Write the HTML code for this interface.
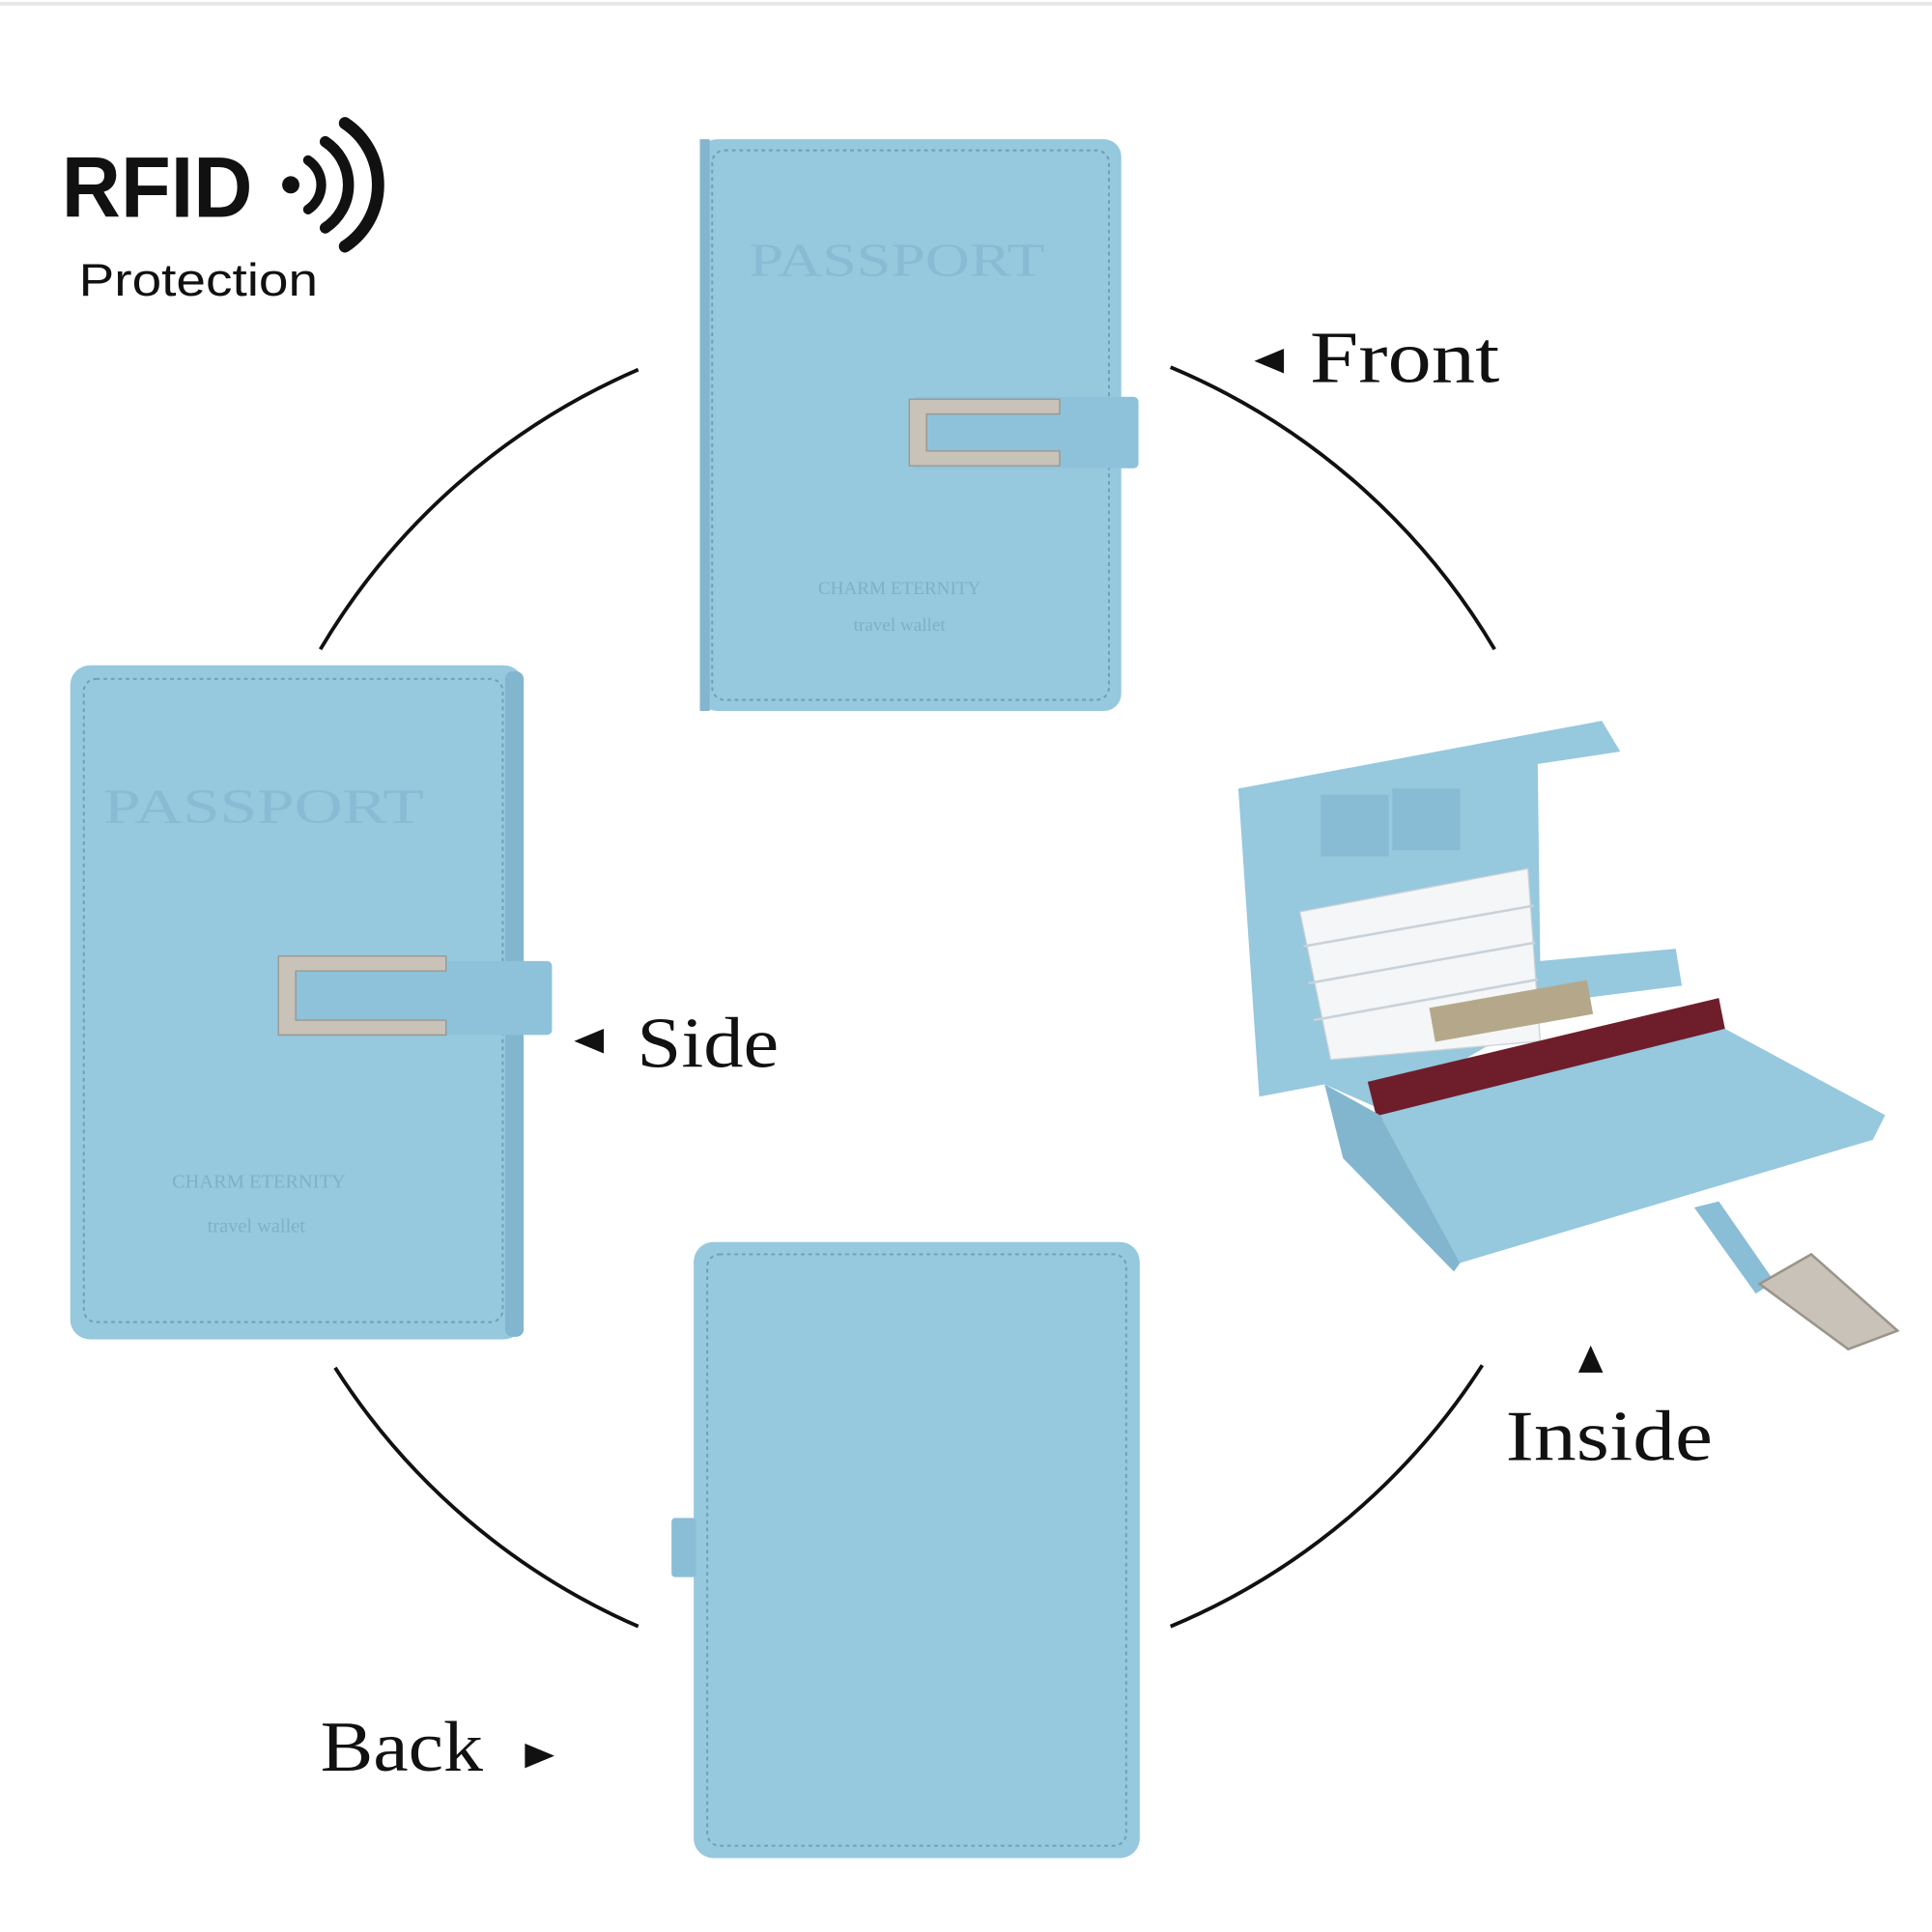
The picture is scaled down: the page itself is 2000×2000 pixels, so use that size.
<!DOCTYPE html>
<html><head><meta charset="utf-8"><style>html,body{margin:0;padding:0;background:#fff}svg{display:block}</style></head><body>
<svg width="2000" height="2000" viewBox="0 0 1568 1568" xmlns="http://www.w3.org/2000/svg">
<rect width="1568" height="1568" fill="#fff"/>
<line x1="0" y1="3" x2="1568" y2="3" stroke="#e6e6e6" stroke-width="3"/>
<g fill="none" stroke="#111" stroke-width="3">
<path d="M518,300 A555,555 0 0 0 260,527"/>
<path d="M950,298 A555,555 0 0 1 1213,527"/>
<path d="M272,1110 A555,555 0 0 0 518,1320"/>
<path d="M950,1320 A555,555 0 0 0 1203,1108"/>
</g>
<text x="50" y="176" font-family="Liberation Sans, sans-serif" font-size="70" font-weight="bold" fill="#111" textLength="155" lengthAdjust="spacingAndGlyphs">RFID</text>
<circle cx="236" cy="150" r="7" fill="#111"/>
<g fill="none" stroke="#111" stroke-linecap="round">
<path d="M250,130 A24,24 0 0 1 250,170" stroke-width="8"/>
<path d="M264,115 A42,42 0 0 1 264,185" stroke-width="9"/>
<path d="M280,100 A60,60 0 0 1 280,200" stroke-width="10"/>
</g>
<text x="64" y="240" font-family="Liberation Sans, sans-serif" font-size="37" fill="#111" textLength="194" lengthAdjust="spacingAndGlyphs">Protection</text>
<!-- Front passport -->
<rect x="568" y="113" width="342" height="464" rx="14" fill="#96c8de"/>
<rect x="568" y="113" width="8" height="464" fill="#82b6cf"/>
<rect x="578" y="122" width="322" height="446" rx="10" fill="none" stroke="#6c9fb8" stroke-width="1.5" stroke-dasharray="3 3"/>
<text x="728" y="224" text-anchor="middle" font-family="Liberation Serif, serif" font-size="38" fill="#88bbd4" textLength="240" lengthAdjust="spacingAndGlyphs">PASSPORT</text>
<text x="730" y="482" text-anchor="middle" font-family="Liberation Serif, serif" font-size="15" fill="#7eb0c8">CHARM ETERNITY</text>
<text x="730" y="512" text-anchor="middle" font-family="Liberation Serif, serif" font-size="15" fill="#7eb0c8">travel wallet</text>
<rect x="740" y="322" width="184" height="58" rx="4" fill="#8ec2da"/>
<path d="M738,324 H860 V336 H752 V366 H860 V378 H738 Z" fill="#c9c2b8" stroke="#9b948a"/>
<!-- Side passport -->
<rect x="57" y="540" width="368" height="547" rx="16" fill="#96c8de"/>
<rect x="410" y="545" width="15" height="540" rx="6" fill="#82b6cf"/>
<rect x="68" y="551" width="340" height="522" rx="10" fill="none" stroke="#6c9fb8" stroke-width="1.5" stroke-dasharray="3 3"/>
<text x="214" y="668" text-anchor="middle" font-family="Liberation Serif, serif" font-size="40" fill="#88bbd4" textLength="260" lengthAdjust="spacingAndGlyphs">PASSPORT</text>
<text x="210" y="964" text-anchor="middle" font-family="Liberation Serif, serif" font-size="16" fill="#7eb0c8">CHARM ETERNITY</text>
<text x="208" y="1000" text-anchor="middle" font-family="Liberation Serif, serif" font-size="16" fill="#7eb0c8">travel wallet</text>
<rect x="228" y="780" width="220" height="60" rx="4" fill="#8ec2da"/>
<path d="M226,776 H362 V788 H240 V828 H362 V840 H226 Z" fill="#c9c2b8" stroke="#9b948a"/>
<!-- Back -->
<rect x="563" y="1008" width="362" height="500" rx="16" fill="#96c8de"/>
<rect x="574" y="1018" width="340" height="480" rx="10" fill="none" stroke="#6c9fb8" stroke-width="1.5" stroke-dasharray="3 3"/>
<rect x="545" y="1232" width="20" height="48" rx="3" fill="#8abed7"/>
<!-- Inside -->
<polygon points="1005,640 1300,585 1315,610 1248,620 1250,780 1360,770 1365,800 1270,812 1120,900 1075,880 1022,890" fill="#96c8de"/>
<rect x="1072" y="645" width="55" height="50" fill="#88bcd5"/>
<rect x="1130" y="640" width="55" height="50" fill="#88bcd5"/>
<polygon points="1055,740 1240,705 1250,845 1080,860" fill="#f4f6f8" stroke="#c9d2d8"/>
<line x1="1058" y1="768" x2="1245" y2="735" stroke="#c9d2d8" stroke-width="2"/>
<line x1="1062" y1="798" x2="1246" y2="765" stroke="#c9d2d8" stroke-width="2"/>
<line x1="1066" y1="828" x2="1248" y2="795" stroke="#c9d2d8" stroke-width="2"/>
<rect x="1160" y="818" width="130" height="28" fill="#b5a88a" transform="rotate(-10 1160 818)"/>
<polygon points="1110,878 1395,810 1400,835 1118,910" fill="#6e1e2a"/>
<polygon points="1120,905 1400,835 1530,905 1520,925 1185,1025" fill="#96c8de"/>
<polygon points="1075,880 1120,905 1185,1025 1180,1032 1090,940" fill="#82b6cf"/>
<polygon points="1375,980 1395,975 1440,1040 1425,1050" fill="#8abed7"/>
<polygon points="1428,1042 1470,1018 1540,1080 1500,1095" fill="#c9c2b8" stroke="#9b948a" stroke-width="2"/>
<g font-family="Liberation Serif, serif" fill="#111">
<text x="1063" y="310" font-size="60" textLength="154" lengthAdjust="spacingAndGlyphs">Front</text>
<polygon points="1018,293 1042,283 1042,303"/>
<text x="517" y="866" font-size="58" textLength="115" lengthAdjust="spacingAndGlyphs">Side</text>
<polygon points="466,845 490,835 490,855"/>
<text x="260" y="1437" font-size="58" textLength="132" lengthAdjust="spacingAndGlyphs">Back</text>
<polygon points="450,1425 426,1415 426,1435"/>
<text x="1222" y="1185" font-size="58" textLength="168" lengthAdjust="spacingAndGlyphs">Inside</text>
<polygon points="1291,1092 1281,1114 1301,1114"/>
</g>
</svg>
</body></html>
